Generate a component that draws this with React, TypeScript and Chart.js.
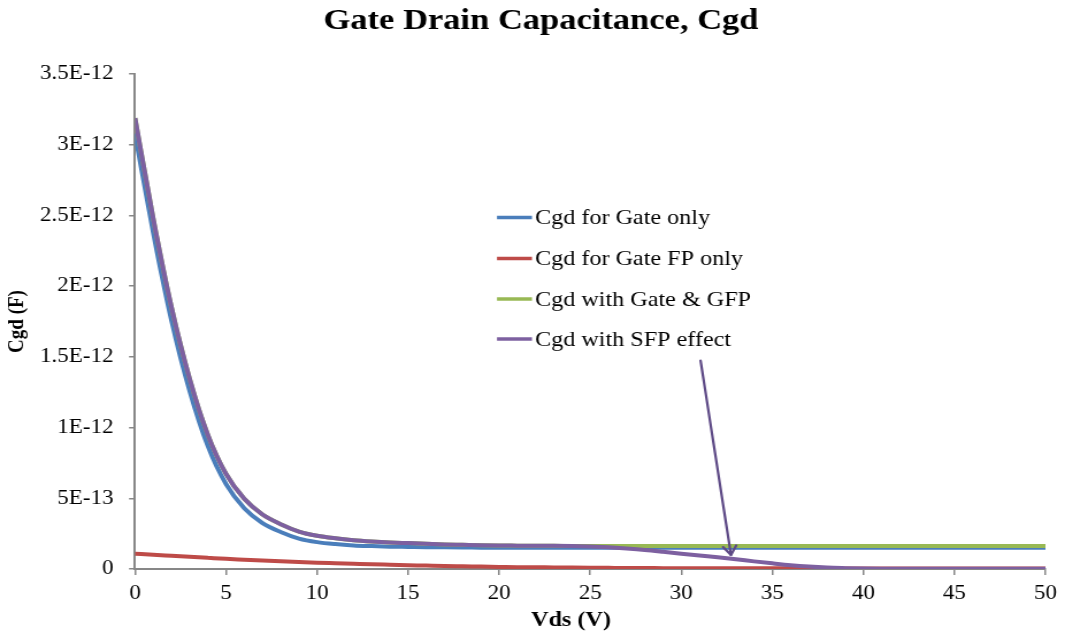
import React, { useEffect, useRef } from 'react';
import { Chart, registerables } from 'chart.js';

Chart.register(...registerables);

// ---------- data (capacitance in pF, i.e. units of 1E-12 F) ----------
const VDS = [
  0, 1, 2, 3, 4, 5, 6, 7, 8, 9, 10, 11, 12, 13, 14, 15, 16, 17, 18, 19, 20, 21, 22, 23, 24, 25,
  26, 27, 28, 29, 30, 31, 32, 33, 34, 35, 36, 37, 38, 39, 40, 41, 42, 43, 44, 45, 46, 47, 48, 49, 50,
];

const CGD_GATE_ONLY = [
  3.08, 2.38, 1.76, 1.26, 0.87, 0.6, 0.43, 0.325, 0.262, 0.215, 0.19, 0.176, 0.167, 0.162, 0.158,
  0.156, 0.154, 0.153, 0.152, 0.151, 0.15, 0.15, 0.15, 0.15, 0.15, 0.15, 0.15, 0.15, 0.15, 0.15,
  0.15, 0.15, 0.15, 0.15, 0.15, 0.15, 0.15, 0.15, 0.15, 0.15, 0.15, 0.15, 0.15, 0.15, 0.15, 0.15,
  0.15, 0.15, 0.15, 0.15, 0.15,
];

const CGD_GATE_FP_ONLY = [
  0.108, 0.1, 0.093, 0.086, 0.079, 0.072, 0.066, 0.06, 0.055, 0.05, 0.045, 0.041, 0.037, 0.033,
  0.03, 0.027, 0.024, 0.021, 0.019, 0.017, 0.015, 0.013, 0.012, 0.011, 0.01, 0.009, 0.008, 0.007,
  0.007, 0.006, 0.006, 0.005, 0.005, 0.005, 0.005, 0.005, 0.005, 0.004, 0.004, 0.004, 0.004, 0.004,
  0.004, 0.004, 0.004, 0.004, 0.004, 0.004, 0.004, 0.004, 0.004,
];

const CGD_GATE_GFP = [
  3.188, 2.48, 1.853, 1.346, 0.949, 0.672, 0.496, 0.385, 0.317, 0.265, 0.235, 0.217, 0.204, 0.195,
  0.188, 0.183, 0.178, 0.174, 0.171, 0.168, 0.166, 0.165, 0.164, 0.164, 0.163, 0.163, 0.163, 0.163,
  0.163, 0.163, 0.163, 0.163, 0.163, 0.163, 0.163, 0.163, 0.163, 0.163, 0.163, 0.163, 0.163, 0.163,
  0.163, 0.163, 0.163, 0.163, 0.163, 0.163, 0.163, 0.163, 0.163,
];

const CGD_SFP = [
  3.188, 2.48, 1.853, 1.346, 0.949, 0.672, 0.496, 0.385, 0.317, 0.265, 0.235, 0.217, 0.204, 0.195,
  0.188, 0.183, 0.178, 0.174, 0.171, 0.168, 0.166, 0.165, 0.164, 0.164, 0.163, 0.159, 0.153, 0.145,
  0.135, 0.122, 0.108, 0.095, 0.083, 0.069, 0.054, 0.04, 0.027, 0.017, 0.01, 0.006, 0.003, 0.0015,
  0.001, 0.001, 0.001, 0.001, 0.001, 0.001, 0.001, 0.001, 0.001,
];

const SERIES_NAMES = [
  'Cgd for Gate only',
  'Cgd for Gate FP only',
  'Cgd with Gate & GFP',
  'Cgd with SFP effect',
];
const SERIES_COLORS = ['#4A7EBB', '#BE4B48', '#98B954', '#7D60A0'];

const Y_TICK_LABELS = ['0', '5E-13', '1E-12', '1.5E-12', '2E-12', '2.5E-12', '3E-12', '3.5E-12'];

const TITLE = 'Gate Drain Capacitance, Cgd';
const X_TITLE = 'Vds (V)';
const Y_TITLE = 'Cgd (F)';

// arrow annotation in data coordinates (Vds, pF)
const ARROW_FROM = [31.06, 1.473];
const ARROW_TO = [32.73, 0.099];
const ARROW_COLOR = '#5E4A86';

// ---------- layout ----------
const OUT_W = 1065;
const OUT_H = 639;
const STRETCH = 1.15; // reference is horizontally stretched
const IN_W = Math.round(OUT_W / STRETCH);
const FONT = "'Liberation Serif', 'Times New Roman', serif";
const AXIS_GRAY = '#878787';

const px = (actualX: number) => actualX / (OUT_W / IN_W);

const overlayPlugin = {
  id: 'overlay',
  afterDatasetsDraw(chart: any) {
    const { ctx, scales } = chart;
    const xs = scales.x;
    const ys = scales.y;
    const x1 = xs.getPixelForValue(ARROW_FROM[0]);
    const y1 = ys.getPixelForValue(ARROW_FROM[1]);
    const x2 = xs.getPixelForValue(ARROW_TO[0]);
    const y2 = ys.getPixelForValue(ARROW_TO[1]);
    ctx.save();
    ctx.strokeStyle = ARROW_COLOR;
    ctx.lineWidth = 2.2;
    ctx.lineCap = 'round';
    ctx.lineJoin = 'round';
    ctx.beginPath();
    ctx.moveTo(x1, y1);
    ctx.lineTo(x2, y2);
    ctx.stroke();
    const ang = Math.atan2(y2 - y1, x2 - x1);
    const len = 10.5;
    const spread = 0.58;
    ctx.beginPath();
    ctx.moveTo(x2 - len * Math.cos(ang - spread), y2 - len * Math.sin(ang - spread));
    ctx.lineTo(x2, y2);
    ctx.lineTo(x2 - len * Math.cos(ang + spread), y2 - len * Math.sin(ang + spread));
    ctx.stroke();
    ctx.restore();
  },
  afterDraw(chart: any) {
    const { ctx } = chart;
    ctx.save();
    ctx.fillStyle = '#000';
    ctx.textBaseline = 'middle';
    // main title
    ctx.textAlign = 'center';
    ctx.font = `bold 30px ${FONT}`;
    ctx.fillText(TITLE, px(541), 21.5);
    // x axis title
    ctx.font = `bold 21px ${FONT}`;
    ctx.fillText(X_TITLE, px(571), 620.5);
    // legend
    const rows = [218.5, 259.5, 300, 340];
    ctx.textAlign = 'left';
    ctx.font = `21px ${FONT}`;
    SERIES_NAMES.forEach((name, i) => {
      const yy = rows[i];
      ctx.strokeStyle = SERIES_COLORS[i];
      ctx.lineWidth = 3.5;
      ctx.beginPath();
      ctx.moveTo(px(497), yy - 1);
      ctx.lineTo(px(532), yy - 1);
      ctx.stroke();
      ctx.fillStyle = '#000';
      ctx.fillText(name, px(535), yy);
    });
    ctx.restore();
  },
};

export default function App() {
  const canvasRef = useRef<HTMLCanvasElement | null>(null);

  useEffect(() => {
    const canvas = canvasRef.current;
    if (!canvas) return;
    const seriesValues = [CGD_GATE_ONLY, CGD_GATE_FP_ONLY, CGD_GATE_GFP, CGD_SFP];
    const orders = [4, 3, 2, 1];
    const chart = new Chart(canvas, {
      type: 'line',
      data: {
        datasets: seriesValues.map((vals, i) => ({
          label: SERIES_NAMES[i],
          data: VDS.map((v, j) => ({ x: v, y: vals[j] })),
          borderColor: SERIES_COLORS[i],
          backgroundColor: SERIES_COLORS[i],
          borderWidth: 4,
          pointRadius: 0,
          fill: false,
          cubicInterpolationMode: 'monotone' as const,
          order: orders[i],
        })),
      },
      options: {
        responsive: false,
        maintainAspectRatio: false,
        animation: false,
        devicePixelRatio: 1,
        events: [],
        layout: { padding: { top: 74, right: IN_W - px(1049), bottom: 0, left: 0 } },
        plugins: {
          legend: { display: false },
          title: { display: false },
          tooltip: { enabled: false },
        },
        scales: {
          x: {
            type: 'linear',
            min: 0,
            max: 50,
            ticks: {
              stepSize: 5,
              maxRotation: 0,
              autoSkip: false,
              color: '#000',
              padding: 7,
              font: { family: FONT, size: 20 },
            },
            grid: {
              display: true,
              drawOnChartArea: false,
              drawTicks: true,
              tickLength: 6,
              color: AXIS_GRAY,
              lineWidth: 1.5,
            },
            border: { display: true, color: AXIS_GRAY, width: 2 },
            afterFit: (scale: any) => {
              scale.height = 70;
            },
          },
          y: {
            type: 'linear',
            min: 0,
            max: 3.5,
            ticks: {
              stepSize: 0.5,
              color: '#000',
              padding: 13.5,
              font: { family: FONT, size: 20 },
              callback: (value: any) => Y_TICK_LABELS[Math.round(Number(value) / 0.5)] ?? '',
            },
            grid: {
              display: true,
              drawOnChartArea: false,
              drawTicks: true,
              tickLength: 5.2,
              color: AXIS_GRAY,
              lineWidth: 1.5,
            },
            border: { display: true, color: AXIS_GRAY, width: 2 },
            title: {
              display: true,
              text: Y_TITLE,
              color: '#000',
              font: { family: FONT, size: 19, weight: 'bold' },
              padding: { top: 4, bottom: 0 },
            },
            afterFit: (scale: any) => {
              scale.width = px(135);
            },
          },
        },
      },
      plugins: [overlayPlugin],
    } as any);
    return () => chart.destroy();
  }, []);

  return (
    <div
      style={{
        position: 'fixed',
        left: 0,
        top: 0,
        width: OUT_W,
        height: OUT_H,
        background: '#fff',
      }}
    >
      <canvas
        ref={canvasRef}
        width={IN_W}
        height={OUT_H}
        style={{ width: `${OUT_W}px`, height: `${OUT_H}px`, display: 'block' }}
      />
    </div>
  );
}
